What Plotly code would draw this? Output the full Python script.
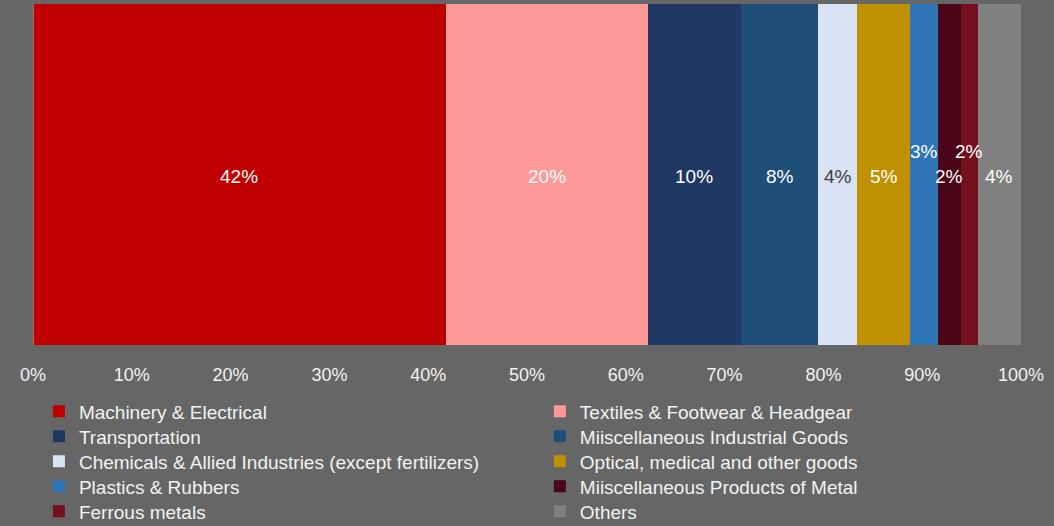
import plotly.graph_objects as go

categories = [
    "Machinery & Electrical",
    "Textiles & Footwear & Headgear",
    "Transportation",
    "Miiscellaneous Industrial Goods",
    "Chemicals & Allied Industries (except fertilizers)",
    "Optical, medical and other goods",
    "Plastics & Rubbers",
    "Miiscellaneous Products of Metal",
    "Ferrous metals",
    "Others",
]
shares = [41.8, 20.4, 9.5, 7.8, 3.9, 5.4, 2.8, 2.3, 1.7, 4.4]
colors = ["#C00000", "#FF9999", "#1F3864", "#1F4E79", "#DAE3F3",
          "#BF9000", "#2E75B6", "#4A0519", "#760F1E", "#808080"]
label_colors = ["#FFFFFF"] * 10
label_colors[4] = "#404040"
lifted = {"Plastics & Rubbers", "Ferrous metals"}

FONT = "Liberation Sans, Arial, sans-serif"
TXT = "#F2F2F2"

fig = go.Figure()
legend_layout = {}
for i, (name, v, c) in enumerate(zip(categories, shares, colors)):
    key = "legend" if i == 0 else f"legend{i + 1}"
    fig.add_trace(go.Bar(
        x=[v], y=["total"], name=name, orientation="h",
        marker=dict(color=c, line=dict(width=0)),
        hoverinfo="name+x",
        legend=key,
    ))
    row, col = divmod(i, 2)
    top_px = 392.5 + 25 * row
    legend_layout[key] = dict(
        orientation="v", xref="paper", yref="container",
        xanchor="left", yanchor="top",
        x=0.006 if col == 0 else 0.513, y=1 - top_px / 526,
        bgcolor="rgba(0,0,0,0)", borderwidth=0, maxheight=400,
        font=dict(family=FONT, size=19, color=TXT),
    )

cum = 0
for name, v, lc in zip(categories, shares, label_colors):
    fig.add_annotation(
        x=cum + v / 2, y=0, xref="x", yref="y",
        text=f"{v:.0f}%", showarrow=False,
        font=dict(family=FONT, size=19, color=lc),
        yshift=23 if name in lifted else -2,
    )
    cum += v

fig.update_layout(
    barmode="stack", bargap=0,
    width=1054, height=526,
    paper_bgcolor="#666666", plot_bgcolor="#666666",
    margin=dict(l=33, r=33, t=4, b=181),
    font=dict(family=FONT, size=18, color=TXT),
    xaxis=dict(range=[0, 100], tickmode="linear", tick0=0, dtick=10,
               ticksuffix="%", showgrid=True, gridcolor="#A6A6A6", gridwidth=1,
               zeroline=False, showline=False, ticks="", ticklabelstandoff=17,
               tickfont=dict(family=FONT, size=18, color=TXT), fixedrange=True),
    yaxis=dict(visible=False, fixedrange=True),
    showlegend=True,
    **legend_layout,
)
fig.add_shape(type="line", xref="x", yref="paper", x0=0, x1=0, y0=0, y1=1,
              line=dict(color="#BFBFBF", width=1), layer="above")

fig.write_html("out.html", config={"displayModeBar": False},
               post_script="document.body.style.margin='0';document.body.style.background='#666666';")
